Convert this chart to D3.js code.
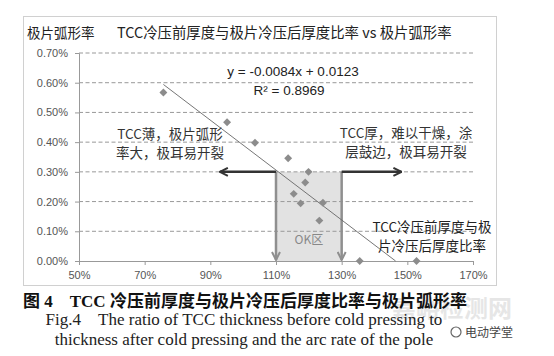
<!DOCTYPE html>
<html>
<head>
<meta charset="utf-8">
<script src="https://cdn.jsdelivr.net/npm/d3@7"></script>
<style>
  body { margin: 0; background: #fff; }
  svg { display: block; }
</style>
</head>
<body>
<svg width="554" height="356"></svg>
<script>
// data
var ratio = [0.757, 0.951, 1.036, 1.137, 1.199, 1.189, 1.154, 1.175, 1.243, 1.232, 1.355, 1.528];
var arcRate = [0.00567, 0.00467, 0.00398, 0.00346, 0.00300, 0.00264, 0.00226, 0.00194, 0.00196, 0.00136, 0.00000, 0.00000];
var xTicks = [0.5, 0.7, 0.9, 1.1, 1.3, 1.5, 1.7];
var yTicks = [0, 0.001, 0.002, 0.003, 0.004, 0.005, 0.006, 0.007];
var slope = -0.0084, intercept = 0.0123, r2 = 0.8969;
var okRange = [1.1, 1.3], okLimit = 0.003;

var svg = d3.select("svg");

var x = d3.scaleLinear().domain([0.5, 1.7]).range([79, 473]);
var y = d3.scaleLinear().domain([0, 0.007]).range([261, 53]);

var pct = d3.format(".2%");

// chart frame
svg.append("rect")
    .attr("x", 23.5).attr("y", 16.5)
    .attr("width", 473).attr("height", 269)
    .attr("fill", "#fff").attr("stroke", "#d0d0d0");

// titles
svg.append("text")
    .attr("x", 27).attr("y", 38)
    .attr("font-family", "Noto Sans CJK SC").attr("font-size", 13.5)
    .attr("fill", "#222")
    .text("极片弧形率");
svg.append("text")
    .attr("x", 117).attr("y", 38)
    .attr("font-family", "Noto Sans CJK SC").attr("font-size", 14.4)
    .attr("fill", "#222")
    .text("TCC冷压前厚度与极片冷压后厚度比率 vs 极片弧形率");

// OK zone
svg.append("rect")
    .attr("x", x(okRange[0])).attr("y", y(okLimit))
    .attr("width", x(okRange[1]) - x(okRange[0]))
    .attr("height", y(0) - y(okLimit))
    .attr("fill", "#e2e2e2");

// grid
svg.append("g")
  .selectAll("line")
  .data(yTicks.slice(1))
  .enter().append("line")
    .attr("x1", x(0.5)).attr("x2", x(1.7))
    .attr("y1", function(d) { return y(d); })
    .attr("y2", function(d) { return y(d); })
    .attr("stroke", "#999")
    .attr("stroke-dasharray", "4,2.5");

// axes
var yAxis = svg.append("g")
    .attr("transform", "translate(" + x(0.5) + ",0)")
    .call(d3.axisLeft(y).tickValues(yTicks).tickFormat(pct).tickSize(4).tickPadding(7));
var xAxis = svg.append("g")
    .attr("transform", "translate(0," + y(0) + ")")
    .call(d3.axisBottom(x).tickValues(xTicks).tickFormat(d3.format(".0%")).tickSize(4).tickPadding(6));

[yAxis, xAxis].forEach(function(ax) {
  ax.select(".domain").attr("stroke", "#999");
  ax.selectAll(".tick line").attr("stroke", "#999");
  ax.selectAll("text")
      .attr("font-family", "Liberation Sans")
      .attr("font-size", 11)
      .attr("fill", "#555");
});

// arrows
var defs = svg.append("defs");
function chevron(id, color) {
  defs.append("marker")
      .attr("id", id)
      .attr("viewBox", "0 0 10 10")
      .attr("refX", 9).attr("refY", 5)
      .attr("markerWidth", 4).attr("markerHeight", 4)
      .attr("orient", "auto")
    .append("path")
      .attr("d", "M1,1L9,5L1,9")
      .attr("fill", "none")
      .attr("stroke", color)
      .attr("stroke-width", 2);
}
chevron("arrDark", "#333");
chevron("arrGray", "#8f8f8f");

var vArrows = [okRange[0], okRange[1]];
svg.append("g")
  .selectAll("line")
  .data(vArrows)
  .enter().append("line")
    .attr("x1", function(d) { return x(d); })
    .attr("x2", function(d) { return x(d); })
    .attr("y1", y(okLimit))
    .attr("y2", y(0) - 1)
    .attr("stroke", "#8f8f8f")
    .attr("stroke-width", 2.5)
    .attr("marker-end", "url(#arrGray)");

var hArrows = [[okRange[0], 0.929], [okRange[1], 1.482]];
svg.append("g")
  .selectAll("line")
  .data(hArrows)
  .enter().append("line")
    .attr("x1", function(d) { return x(d[0]); })
    .attr("x2", function(d) { return x(d[1]); })
    .attr("y1", y(okLimit))
    .attr("y2", y(okLimit))
    .attr("stroke", "#333")
    .attr("stroke-width", 2.5)
    .attr("marker-end", "url(#arrDark)");

// trendline
var x0 = d3.min(ratio), x1 = Math.min(d3.max(ratio), -intercept / slope);
svg.append("line")
    .attr("x1", x(x0)).attr("y1", y(slope * x0 + intercept))
    .attr("x2", x(x1)).attr("y2", y(slope * x1 + intercept))
    .attr("stroke", "#666")
    .attr("stroke-width", 0.9);

// points
var pts = ratio.map(function(d, i) { return [d, arcRate[i]]; });
svg.append("g")
  .selectAll("path")
  .data(pts)
  .enter().append("path")
    .attr("d", d3.symbol().type(d3.symbolDiamond2).size(40))
    .attr("transform", function(d) { return "translate(" + x(d[0]) + "," + y(d[1]) + ")"; })
    .attr("fill", "#8c8c8c");

// annotations
function label(lines, cx, cy, size, color, family, step) {
  var t = svg.append("text")
      .attr("text-anchor", "middle")
      .attr("font-family", family || "Noto Sans CJK SC")
      .attr("font-size", size)
      .attr("fill", color);
  lines.forEach(function(l, i) {
    t.append("tspan").attr("x", cx).attr("y", cy + i * (step || 19)).text(l);
  });
}
label(["y = -0.0084x + 0.0123"], 293, 76, 13.5, "#222", "Liberation Sans");
label(["R² = 0.8969"], 289, 95, 13.5, "#222", "Liberation Sans");
label(["TCC薄，极片弧形", "率大，极耳易开裂"], 170, 139, 13.5, "#333");
label(["TCC厚，难以干燥，涂", "层鼓边，极耳易开裂"], 406, 138, 13.5, "#333");
label(["TCC冷压前厚度与极", "片冷压后厚度比率"], 432, 232, 13.5, "#222");
label(["OK区"], x(1.2), 244, 12, "#888");

// watermark (behind the caption)
svg.append("text")
    .attr("x", 392).attr("y", 317)
    .attr("font-family", "Noto Sans CJK SC").attr("font-size", 24)
    .attr("font-weight", "bold")
    .attr("fill", "#e6e6e6")
    .text("嘉峪检测网");
svg.append("circle").attr("cx", 456).attr("cy", 332).attr("r", 5)
    .attr("fill", "none").attr("stroke", "#666").attr("stroke-width", 1.2);
svg.append("text")
    .attr("x", 465).attr("y", 337)
    .attr("font-family", "Noto Sans CJK SC").attr("font-size", 12)
    .attr("fill", "#444")
    .text("电动学堂");

// caption
svg.append("text")
    .attr("x", 23).attr("y", 307)
    .attr("font-family", "Liberation Serif, Noto Sans CJK SC")
    .attr("font-weight", "bold")
    .attr("font-size", 17)
    .attr("fill", "#111")
    .text("图 4\u3000TCC 冷压前厚度与极片冷压后厚度比率与极片弧形率");
label(["Fig.4\u3000The ratio of TCC thickness before cold pressing to",
       "thickness after cold pressing and the arc rate of the pole"], 244, 325, 17, "#222", "Liberation Serif", 20);
</script>
</body>
</html>
